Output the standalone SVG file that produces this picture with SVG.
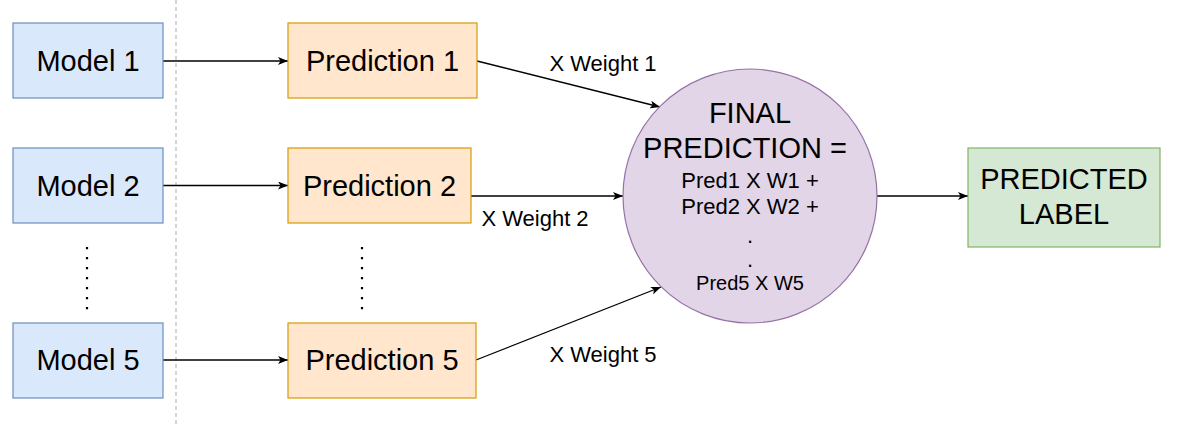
<svg xmlns="http://www.w3.org/2000/svg" width="1187" height="425" viewBox="0 0 1187 425">
<style>
text{font-family:"Liberation Sans",Arial,sans-serif;fill:#000;text-anchor:middle}
.big{font-size:29px}
.mid{font-size:22px}
.sm{font-size:20px}
.model{fill:#dae8fc;stroke:#6c8ebf;stroke-width:1.2}
.pred{fill:#ffe6cc;stroke:#d79b00;stroke-width:1.2}
.final{fill:#e1d5e7;stroke:#9673a6;stroke-width:1.2}
.label{fill:#d5e8d4;stroke:#82b366;stroke-width:1.2}
.conn{stroke:#000;stroke-width:1.3;fill:none;marker-end:url(#arr)}
.dots{stroke:#000;stroke-width:2.2;stroke-dasharray:2.2 7.8;fill:none}
</style>
<defs>
<marker id="arr" viewBox="0 0 10 8" refX="10" refY="4" markerWidth="10" markerHeight="8" orient="auto" markerUnits="userSpaceOnUse">
<path d="M0,0 L10,4 L0,8 L2.5,4 Z" fill="#000"/>
</marker>
</defs>
<rect width="1187" height="425" fill="#fff"/>
<line x1="176" y1="0" x2="176" y2="425" stroke="#c8c8c8" stroke-width="1.5" stroke-dasharray="4 3"/>
<g id="connectors">
<line class="conn" x1="163" y1="61" x2="288" y2="61"/>
<line class="conn" x1="163" y1="185.5" x2="288" y2="185.5"/>
<line class="conn" x1="163" y1="360" x2="288" y2="360"/>
<line class="conn" x1="477" y1="61" x2="660" y2="107"/>
<line class="conn" x1="471" y1="196" x2="623" y2="196"/>
<line class="conn" x1="476" y1="360" x2="661" y2="287"/>
<line class="conn" x1="877" y1="196" x2="968" y2="196"/>
<text class="mid" x="603" y="71">X Weight 1</text>
<text class="mid" x="535" y="226">X Weight 2</text>
<text class="mid" x="603" y="362">X Weight 5</text>
</g>
<g id="model1"><rect class="model" x="13" y="23" width="150" height="75"/><text class="big" x="88" y="71">Model 1</text></g>
<g id="model2"><rect class="model" x="13" y="148" width="150" height="75"/><text class="big" x="88" y="196">Model 2</text></g>
<g id="model5"><rect class="model" x="13" y="323" width="150" height="75"/><text class="big" x="88" y="370">Model 5</text></g>
<line id="model-dots" class="dots" x1="87" y1="247" x2="87" y2="310"/>
<g id="prediction1"><rect class="pred" x="288" y="23" width="189" height="75"/><text class="big" x="382.5" y="71">Prediction 1</text></g>
<g id="prediction2"><rect class="pred" x="288" y="148" width="183" height="75"/><text class="big" x="379.5" y="196">Prediction 2</text></g>
<g id="prediction5"><rect class="pred" x="288" y="323" width="188" height="75"/><text class="big" x="382" y="370">Prediction 5</text></g>
<line id="prediction-dots" class="dots" x1="362" y1="247" x2="362" y2="310"/>
<g id="final">
<circle class="final" cx="750" cy="196" r="127"/>
<text class="big" x="750" y="123">FINAL</text>
<text class="big" x="745" y="158">PREDICTION =</text>
<text class="mid" x="750" y="188">Pred1 X W1 +</text>
<text class="mid" x="750" y="214">Pred2 X W2 +</text>
<text class="mid" x="750" y="243">.</text>
<text class="mid" x="750" y="267">.</text>
<text class="sm" x="750" y="290">Pred5 X W5</text>
</g>
<g id="predicted-label">
<rect class="label" x="968" y="148" width="192" height="99"/>
<text class="big" x="1064" y="189">PREDICTED</text>
<text class="big" x="1064" y="224">LABEL</text>
</g>
</svg>
